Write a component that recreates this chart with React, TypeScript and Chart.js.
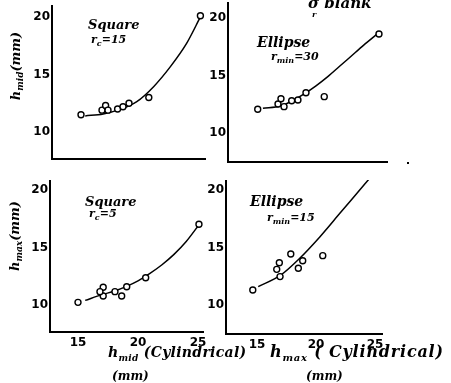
import React, { useEffect, useRef } from "react";
import { Chart, registerables } from "chart.js";

Chart.register(...registerables);

// ---- data ----
const xTickValues = [15, 20, 25];
const yTickValues = [10, 15, 20];

// Top-left: Square, rc = 15
const sq15PointsX = [15.25, 17.0, 17.3, 17.5, 18.3, 18.75, 19.25, 20.9, 25.2];
const sq15PointsY = [11.5, 11.9, 12.3, 11.9, 12.0, 12.2, 12.5, 13.0, 20.1];
const sq15CurveX = [15.6, 17.1, 18.5, 19.9, 21.3, 22.7, 24.05, 25.2];
const sq15CurveY = [11.4, 11.57, 11.97, 12.64, 13.94, 15.68, 17.7, 20.0];

// Top-right: Ellipse, rmin = 30
const el30PointsX = [15.06, 16.78, 17.03, 17.29, 17.94, 18.47, 19.15, 20.7, 25.34];
const el30PointsY = [12.06, 12.52, 12.98, 12.29, 12.81, 12.87, 13.5, 13.16, 18.61];
const el30CurveX = [15.5, 17, 18, 19, 20, 21, 22, 23, 24, 25.3];
const el30CurveY = [12.15, 12.35, 12.8, 13.4, 14.1, 14.9, 15.8, 16.7, 17.6, 18.7];

// Bottom-left: Square, rc = 5
const sq5PointsX = [15.0, 17.1, 17.1, 16.83, 18.08, 18.64, 19.06, 20.64, 25.08];
const sq5PointsY = [10.23, 11.54, 10.78, 11.16, 11.16, 10.78, 11.59, 12.37, 17.02];
const sq5CurveX = [15.6, 17, 18, 19, 20, 21, 22, 23, 24, 25.1];
const sq5CurveY = [10.4, 10.9, 11.2, 11.6, 12.1, 12.75, 13.5, 14.4, 15.5, 17.0];

// Bottom-right: Ellipse, rmin = 15
const el15PointsX = [14.64, 16.89, 16.95, 16.67, 17.86, 18.5, 18.87, 20.57, 24.94];
const el15PointsY = [11.3, 13.68, 12.47, 13.1, 14.43, 13.19, 13.85, 14.29, 21.5];
const el15CurveX = [15.1, 17, 18.6, 20.3, 22, 23.45, 24.9];
const el15CurveY = [11.6, 12.6, 14.05, 15.9, 17.95, 19.7, 21.45];

// ---- layout ----
const Y_AXIS_W = 45;
const RIGHT_PAD = 12;

type Panel = {
  px: number[]; py: number[]; cx: number[]; cy: number[];
  area: { l: number; r: number; t: number; b: number };
  xr: [number, number]; yr: [number, number];
  showX: boolean; hx: number;
};

const panels: Panel[] = [
  { px: sq15PointsX, py: sq15PointsY, cx: sq15CurveX, cy: sq15CurveY,
    area: { l: 52, r: 205, t: 5, b: 159 }, xr: [12.833, 25.583], yr: [7.652, 21.04], showX: false, hx: 6 },
  { px: el30PointsX, py: el30PointsY, cx: el30CurveX, cy: el30CurveY,
    area: { l: 228, r: 387, t: 2, b: 162 }, xr: [12.54, 26.02], yr: [7.48, 21.39], showX: false, hx: 6 },
  { px: sq5PointsX, py: sq5PointsY, cx: sq5CurveX, cy: sq5CurveY,
    area: { l: 50, r: 203, t: 180, b: 332 }, xr: [12.667, 25.417], yr: [7.652, 20.87], showX: true, hx: 24 },
  { px: el15PointsX, py: el15PointsY, cx: el15CurveX, cy: el15CurveY,
    area: { l: 226, r: 382, t: 180, b: 334 }, xr: [12.37, 25.59], yr: [7.478, 20.87], showX: true, hx: 24 },
];

const handFont = "'DejaVu Serif', serif";

function PanelChart({ p }: { p: Panel }) {
  const ref = useRef<HTMLCanvasElement | null>(null);
  const w = Y_AXIS_W + (p.area.r - p.area.l) + RIGHT_PAD;
  const h = (p.area.b - p.area.t) + p.hx;
  useEffect(() => {
    if (!ref.current) return;
    const tickFont = { family: "'DejaVu Sans', sans-serif", size: 12, weight: "bold" as const };
    const chart = new Chart(ref.current, {
      type: "scatter",
      data: {
        datasets: [
          {
            data: p.px.map((x, i) => ({ x, y: p.py[i] })),
            pointRadius: 3,
            pointBorderWidth: 1.4,
            pointBackgroundColor: "#fff",
            pointBorderColor: "#000",
            showLine: false,
            clip: false,
          },
          {
            data: p.cx.map((x, i) => ({ x, y: p.cy[i] })),
            showLine: true,
            pointRadius: 0,
            borderColor: "#000",
            borderWidth: 1.5,
            tension: 0.4,
            cubicInterpolationMode: "monotone",
            clip: false,
          },
        ],
      },
      options: {
        animation: false,
        responsive: false,
        devicePixelRatio: 1,
        layout: { padding: { left: 0, top: 0, bottom: 0, right: RIGHT_PAD }, autoPadding: false },
        plugins: { legend: { display: false }, tooltip: { enabled: false } },
        scales: {
          x: {
            type: "linear",
            min: p.xr[0],
            max: p.xr[1],
            afterBuildTicks: (s: any) => { s.ticks = xTickValues.map((v) => ({ value: v })); },
            ticks: { display: p.showX, color: "#000", font: tickFont, padding: 4 },
            grid: { display: false, drawTicks: false },
            border: { display: true, color: "#000", width: 2 },
            afterFit: (s: any) => { s.height = p.hx; s.paddingLeft = 0; s.paddingRight = 0; },
          },
          y: {
            type: "linear",
            min: p.yr[0],
            max: p.yr[1],
            afterBuildTicks: (s: any) => { s.ticks = yTickValues.map((v) => ({ value: v })); },
            ticks: { color: "#000", font: tickFont, padding: 2 },
            grid: { display: false, drawTicks: false },
            border: { display: true, color: "#000", width: 2 },
            afterFit: (s: any) => { s.width = Y_AXIS_W; s.paddingTop = 0; s.paddingBottom = 0; },
          },
        },
      },
    } as any);
    return () => chart.destroy();
  }, [p]);
  return (
    <canvas
      ref={ref}
      width={w}
      height={h}
      style={{ position: "absolute", left: p.area.l - Y_AXIS_W, top: p.area.t, width: w, height: h }}
    />
  );
}

const txt = (extra: React.CSSProperties): React.CSSProperties => ({
  position: "absolute",
  fontFamily: handFont,
  fontStyle: "italic",
  fontWeight: "bold",
  color: "#000",
  whiteSpace: "nowrap",
  lineHeight: 1,
  ...extra,
});

export default function App() {
  return (
    <div style={{ position: "fixed", left: 0, top: 0, width: 451, height: 383, background: "#fff", overflow: "hidden" }}>
      {panels.map((p, i) => <PanelChart key={i} p={p} />)}

      {/* panel labels */}
      <div style={txt({ left: 88, top: 18, fontSize: 13 })}>Square</div>
      <div style={txt({ left: 91, top: 34, fontSize: 11 })}>r<sub style={{ fontSize: 8 }}>c</sub>=15</div>

      <div style={txt({ left: 257, top: 35, fontSize: 14 })}>Ellipse</div>
      <div style={txt({ left: 271, top: 51, fontSize: 11 })}>r<sub style={{ fontSize: 8 }}>min</sub>=30</div>

      <div style={txt({ left: 85, top: 195, fontSize: 13 })}>Square</div>
      <div style={txt({ left: 89, top: 208, fontSize: 11 })}>r<sub style={{ fontSize: 8 }}>c</sub>=5</div>

      <div style={txt({ left: 250, top: 194, fontSize: 14 })}>Ellipse</div>
      <div style={txt({ left: 267, top: 212, fontSize: 11 })}>r<sub style={{ fontSize: 8 }}>min</sub>=15</div>

      {/* header fragment */}
      <div style={txt({ left: 308, top: -4, fontSize: 15 })}>σ blank</div>
      <div style={txt({ left: 312, top: 10, fontSize: 8 })}>r</div>

      {/* y titles */}
      <div style={txt({ left: 17, top: 66, fontSize: 13, transform: "translate(-50%,-50%) rotate(-90deg)" })}>
        h<sub style={{ fontSize: 9 }}>mid</sub>(mm)
      </div>
      <div style={txt({ left: 16, top: 236, fontSize: 13, transform: "translate(-50%,-50%) rotate(-90deg)" })}>
        h<sub style={{ fontSize: 9 }}>max</sub>(mm)
      </div>

      {/* x titles */}
      <div style={txt({ left: 108, top: 345, fontSize: 14, letterSpacing: 0.3 })}>h<sub style={{ fontSize: 9 }}>mid</sub> (Cylindrical)</div>
      <div style={txt({ left: 112, top: 370, fontSize: 12 })}>(mm)</div>
      <div style={txt({ left: 270, top: 344, fontSize: 16, letterSpacing: 0.8 })}>h<sub style={{ fontSize: 10 }}>max</sub> ( Cylindrical)</div>
      <div style={txt({ left: 306, top: 370, fontSize: 12 })}>(mm)</div>

      {/* stray mark */}
      <div style={{ position: "absolute", left: 407, top: 162, width: 2, height: 2, background: "#000" }} />
    </div>
  );
}
